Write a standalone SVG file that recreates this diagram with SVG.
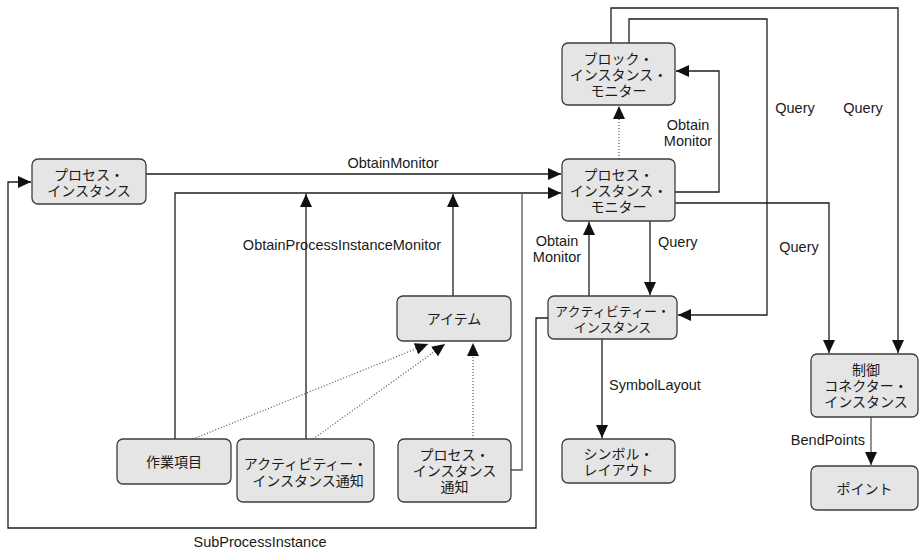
<svg xmlns="http://www.w3.org/2000/svg" width="919" height="552" viewBox="0 0 919 552">
  <style>
    .box { fill: #e5e5e5; stroke: #3c3c3c; stroke-width: 1.3; }
    .jp { font-family: "Noto Sans CJK JP", "Noto Sans", sans-serif; font-size: 14px; fill: #1a1a1a; text-anchor: middle; dominant-baseline: central; }
    .lbl { font-family: "Liberation Sans", Arial, sans-serif; font-size: 14.5px; fill: #1a1a1a; dominant-baseline: central; }
    .line { fill: none; stroke: #1e1e1e; stroke-width: 1.3; }
    .gray { stroke: #555; }
    .dot { fill: none; stroke: #555; stroke-width: 1.2; stroke-dasharray: 1 2; }
    .arr { marker-end: url(#head); }
  </style>
  <defs>
    <marker id="head" markerUnits="userSpaceOnUse" markerWidth="13" markerHeight="12" refX="13" refY="6" orient="auto">
      <path d="M0,0 L13,6 L0,12 Z" fill="#111"/>
    </marker>
  </defs>
  <rect width="919" height="552" fill="#fff"/>

  <!-- connectors -->
  <g id="connectors">
    <!-- ObtainMonitor -->
    <path class="line arr" d="M146,174 H561"/>
    <text class="lbl" x="393" y="163" text-anchor="middle">ObtainMonitor</text>

    <!-- ObtainProcessInstanceMonitor bus -->
    <path class="line arr" d="M175,439 V193 H561"/>
    <path class="line gray" d="M511,470 H522 V193"/>
    <path class="line arr" d="M306,439 V194"/>
    <path class="line arr" d="M453,296 V194"/>
    <text class="lbl" x="342" y="245" text-anchor="middle">ObtainProcessInstanceMonitor</text>

    <!-- SubProcessInstance -->
    <path class="line arr" d="M548,318 H536 V528 H8 V182 H31"/>
    <text class="lbl" x="260" y="542" text-anchor="middle">SubProcessInstance</text>

    <!-- generalisations toward アイテム and the block monitor -->
    <path class="dot arr" d="M193,439 L428,344"/>
    <path class="dot arr" d="M313,439 L445,344"/>
    <path class="dot arr" d="M473,439 V343"/>
    <path class="dot arr" d="M619,159 V106"/>

    <!-- process monitor -> block monitor -->
    <path class="line arr" d="M675,192 H719 V71 H676"/>
    <text class="lbl" text-anchor="middle" y="125"><tspan x="688">Obtain</tspan><tspan x="688" dy="16">Monitor</tspan></text>

    <!-- block monitor queries -->
    <path class="line arr" d="M611,43 V8 H898 V353"/>
    <path class="line arr" d="M629,43 V19 H767 V315 H678"/>
    <text class="lbl" x="795" y="108" text-anchor="middle">Query</text>
    <text class="lbl" x="863" y="108" text-anchor="middle">Query</text>

    <!-- process monitor queries -->
    <path class="line arr" d="M675,203 H829 V353"/>
    <text class="lbl" x="799" y="247" text-anchor="middle">Query</text>
    <path class="line arr" d="M650,221 V295"/>
    <text class="lbl" x="658" y="242">Query</text>

    <!-- activity instance -> process monitor -->
    <path class="line arr" d="M589,296 V222"/>
    <text class="lbl" text-anchor="middle" y="241"><tspan x="557">Obtain</tspan><tspan x="557" dy="16">Monitor</tspan></text>

    <!-- SymbolLayout -->
    <path class="line arr" d="M602,339 V438"/>
    <text class="lbl" x="609" y="385">SymbolLayout</text>

    <!-- BendPoints -->
    <path class="line gray arr" d="M871,417 V465"/>
    <text class="lbl" x="865" y="440" text-anchor="end">BendPoints</text>
  </g>

  <!-- nodes -->
  <g id="process-instance">
    <rect class="box" x="32" y="159" width="114" height="45" rx="6"/>
    <text class="jp" y="174"><tspan x="89">プロセス・</tspan><tspan x="89" dy="16">インスタンス</tspan></text>
  </g>
  <g id="block-instance-monitor">
    <rect class="box" x="562" y="43" width="113" height="62" rx="6"/>
    <text class="jp" y="58"><tspan x="618.5">ブロック・</tspan><tspan x="618.5" dy="16">インスタンス・</tspan><tspan x="618.5" dy="16">モニター</tspan></text>
  </g>
  <g id="process-instance-monitor">
    <rect class="box" x="562" y="159" width="113" height="62" rx="6"/>
    <text class="jp" y="174"><tspan x="618.5">プロセス・</tspan><tspan x="618.5" dy="16">インスタンス・</tspan><tspan x="618.5" dy="16">モニター</tspan></text>
  </g>
  <g id="item">
    <rect class="box" x="397" y="296" width="114" height="45" rx="6"/>
    <text class="jp" x="454" y="318">アイテム</text>
  </g>
  <g id="activity-instance">
    <rect class="box" x="548" y="296" width="129" height="43" rx="6"/>
    <text class="jp" y="310" style="font-size:13px"><tspan x="612.5">アクティビティー・</tspan><tspan x="612.5" dy="16">インスタンス</tspan></text>
  </g>
  <g id="work-item">
    <rect class="box" x="117" y="439" width="114" height="45" rx="6"/>
    <text class="jp" x="174" y="461">作業項目</text>
  </g>
  <g id="activity-instance-notification">
    <rect class="box" x="237" y="439" width="137" height="63" rx="6"/>
    <text class="jp" y="463"><tspan x="305.5">アクティビティー・</tspan><tspan x="308" dy="17">インスタンス通知</tspan></text>
  </g>
  <g id="process-instance-notification">
    <rect class="box" x="398" y="439" width="113" height="63" rx="6"/>
    <text class="jp" y="454"><tspan x="454.5">プロセス・</tspan><tspan x="454.5" dy="16">インスタンス</tspan><tspan x="454.5" dy="16">通知</tspan></text>
  </g>
  <g id="symbol-layout">
    <rect class="box" x="562" y="439" width="113" height="44" rx="6"/>
    <text class="jp" y="453"><tspan x="618.5">シンボル・</tspan><tspan x="618.5" dy="16">レイアウト</tspan></text>
  </g>
  <g id="control-connector-instance">
    <rect class="box" x="811" y="354" width="107" height="63" rx="6"/>
    <text class="jp" y="369"><tspan x="866">制御</tspan><tspan x="866" dy="16">コネクター・</tspan><tspan x="866" dy="16">インスタンス</tspan></text>
  </g>
  <g id="point">
    <rect class="box" x="811" y="466" width="107" height="44" rx="6"/>
    <text class="jp" x="864.5" y="488">ポイント</text>
  </g>
</svg>
